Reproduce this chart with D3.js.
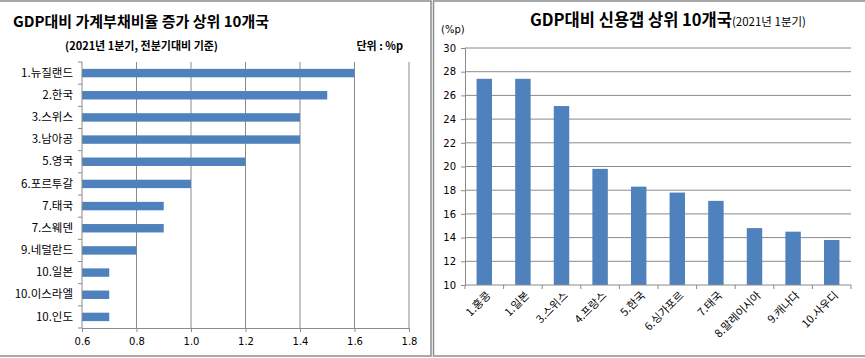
<!DOCTYPE html>
<html><head><meta charset="utf-8">
<script src="https://cdn.jsdelivr.net/npm/d3@7"></script>
<style>
body{margin:0;background:#fff;}
svg{display:block;font-family:"Noto Sans CJK KR","Noto Sans",sans-serif;}
</style></head>
<body><svg id="c" width="865" height="358"></svg>
<script>
// Left chart data
const leftCategories = ["1.뉴질랜드","2.한국","3.스위스","3.남아공","5.영국","6.포르투갈","7.태국","7.스웨덴","9.네덜란드","10.일본","10.이스라엘","10.인도"];
const leftValues = [1.6,1.5,1.4,1.4,1.2,1.0,0.9,0.9,0.8,0.7,0.7,0.7];
const leftTicks = [0.6,0.8,1.0,1.2,1.4,1.6,1.8];
// Right chart data
const rightCategories = ["1.홍콩","1.일본","3.스위스","4.프랑스","5.한국","6.싱가포르","7.태국","8.말레이시아","9.캐나다","10.사우디"];
const rightValues = [27.4,27.4,25.1,19.8,18.3,17.8,17.1,14.8,14.5,13.8];
const rightTicks = [10,12,14,16,18,20,22,24,26,28,30];

const svg = d3.select("#c");
const barColor = "#4f81bd";
const gridColor = "#8a8a8a";
const borderColor = "#8c8c8c";

// panel borders
svg.append("rect").attr("x",-2).attr("y",1).attr("width",433).attr("height",355)
  .attr("fill","none").attr("stroke",borderColor).attr("stroke-width",1.5);
svg.append("rect").attr("x",433.5).attr("y",1).attr("width",433).attr("height",355)
  .attr("fill","none").attr("stroke",borderColor).attr("stroke-width",1.5);

// ===== Left chart =====
const L = {x0:82, x1:409, y0:62, y1:328};
const xL = d3.scaleLinear().domain([0.6,1.8]).range([L.x0,L.x1]);
const yL = d3.scaleBand().domain(leftCategories).range([L.y0,L.y1]).paddingInner(0.62).paddingOuter(0.31);
const gL = svg.append("g");

gL.append("text").attr("x",13).attr("y",27).attr("font-size",15).attr("font-weight","bold")
  .attr("fill","#000").text("GDP대비 가계부채비율 증가 상위 10개국");
gL.append("text").attr("x",65).attr("y",50).attr("font-size",11).attr("font-weight","bold")
  .text("(2021년 1분기, 전분기대비 기준)");
gL.append("text").attr("x",403).attr("y",50).attr("font-size",11).attr("font-weight","bold")
  .attr("text-anchor","end").text("단위 : %p");

// gridlines
gL.append("g").selectAll("line").data(leftTicks.slice(1)).join("line")
  .attr("x1",d=>xL(d)).attr("x2",d=>xL(d)).attr("y1",L.y0).attr("y2",L.y1)
  .attr("stroke",gridColor).attr("stroke-width",1);

// bars
gL.append("g").selectAll("rect").data(leftValues).join("rect")
  .attr("x",xL(0.6)).attr("y",(d,i)=>yL(leftCategories[i]))
  .attr("width",d=>xL(d)-xL(0.6)).attr("height",yL.bandwidth()).attr("fill",barColor);

// x axis
const xAxisL = d3.axisBottom(xL).tickValues(leftTicks).tickFormat(d3.format(".1f")).tickSize(4).tickPadding(6);
const gxL = gL.append("g").attr("transform",`translate(0,${L.y1})`).call(xAxisL);
gxL.select(".domain").attr("stroke",gridColor);
gxL.selectAll(".tick line").attr("stroke",gridColor);
gxL.selectAll("text").attr("font-size",10).attr("fill","#000").attr("font-family","DejaVu Sans, sans-serif");

// y axis
const bandEdgesL = leftCategories.map(c=>yL(c)-yL.step()*yL.paddingInner()/2).concat([L.y1]);
gL.append("line").attr("x1",L.x0).attr("x2",L.x0).attr("y1",L.y0).attr("y2",L.y1).attr("stroke",gridColor);
gL.append("g").selectAll("line").data(bandEdgesL).join("line")
  .attr("x1",L.x0-4).attr("x2",L.x0).attr("y1",d=>d).attr("y2",d=>d).attr("stroke",gridColor);
const yAxisL = d3.axisLeft(yL).tickSize(0).tickPadding(9);
const gyL = gL.append("g").attr("transform",`translate(${L.x0},0)`).call(yAxisL);
gyL.select(".domain").remove();
gyL.selectAll("text").attr("font-size",11.5).attr("fill","#000").attr("font-family","Noto Sans CJK KR, sans-serif");

// ===== Right chart =====
const R = {x0:465, x1:851, y0:48, y1:285};
const xR = d3.scaleBand().domain(rightCategories).range([R.x0,R.x1]).paddingInner(0.6).paddingOuter(0.3);
const yR = d3.scaleLinear().domain([10,30]).range([R.y1,R.y0]);
const gR = svg.append("g");

const t = gR.append("text").attr("x",530).attr("y",26).attr("fill","#000");
t.append("tspan").attr("font-size",16.5).attr("font-weight","bold").text("GDP대비 신용갭 상위 10개국");
t.append("tspan").attr("font-size",11.5).text("(2021년 1분기)");
gR.append("text").attr("x",441).attr("y",33).attr("font-size",10).attr("font-family","DejaVu Sans, sans-serif").text("(%p)");

// gridlines
gR.append("g").selectAll("line").data(rightTicks.slice(1)).join("line")
  .attr("x1",R.x0).attr("x2",R.x1).attr("y1",d=>yR(d)).attr("y2",d=>yR(d))
  .attr("stroke",gridColor).attr("stroke-width",1);

// bars
gR.append("g").selectAll("rect").data(rightValues).join("rect")
  .attr("x",(d,i)=>xR(rightCategories[i])).attr("y",d=>yR(d))
  .attr("width",xR.bandwidth()).attr("height",d=>yR(10)-yR(d)).attr("fill",barColor);

// y axis
const yAxisR = d3.axisLeft(yR).tickValues(rightTicks).tickSize(4).tickPadding(5);
const gyR = gR.append("g").attr("transform",`translate(${R.x0},0)`).call(yAxisR);
gyR.select(".domain").attr("stroke",gridColor);
gyR.selectAll(".tick line").attr("stroke",gridColor);
gyR.selectAll("text").attr("font-size",10).attr("fill","#000").attr("font-family","DejaVu Sans, sans-serif");

// x axis
const bandEdgesR = rightCategories.map(c=>xR(c)-xR.step()*xR.paddingInner()/2).concat([R.x1]);
gR.append("line").attr("x1",R.x0).attr("x2",R.x1).attr("y1",R.y1).attr("y2",R.y1).attr("stroke",gridColor);
gR.append("g").selectAll("line").data(bandEdgesR).join("line")
  .attr("x1",d=>d).attr("x2",d=>d).attr("y1",R.y1).attr("y2",R.y1+4).attr("stroke",gridColor);
gR.append("g").selectAll("text").data(rightCategories).join("text")
  .attr("transform",d=>`translate(${xR(d)+xR.bandwidth()/2+5},${R.y1+9}) rotate(-45)`)
  .attr("text-anchor","end").attr("dominant-baseline","middle")
  .attr("font-size",11).attr("fill","#000").text(d=>d);
</script></body></html>
